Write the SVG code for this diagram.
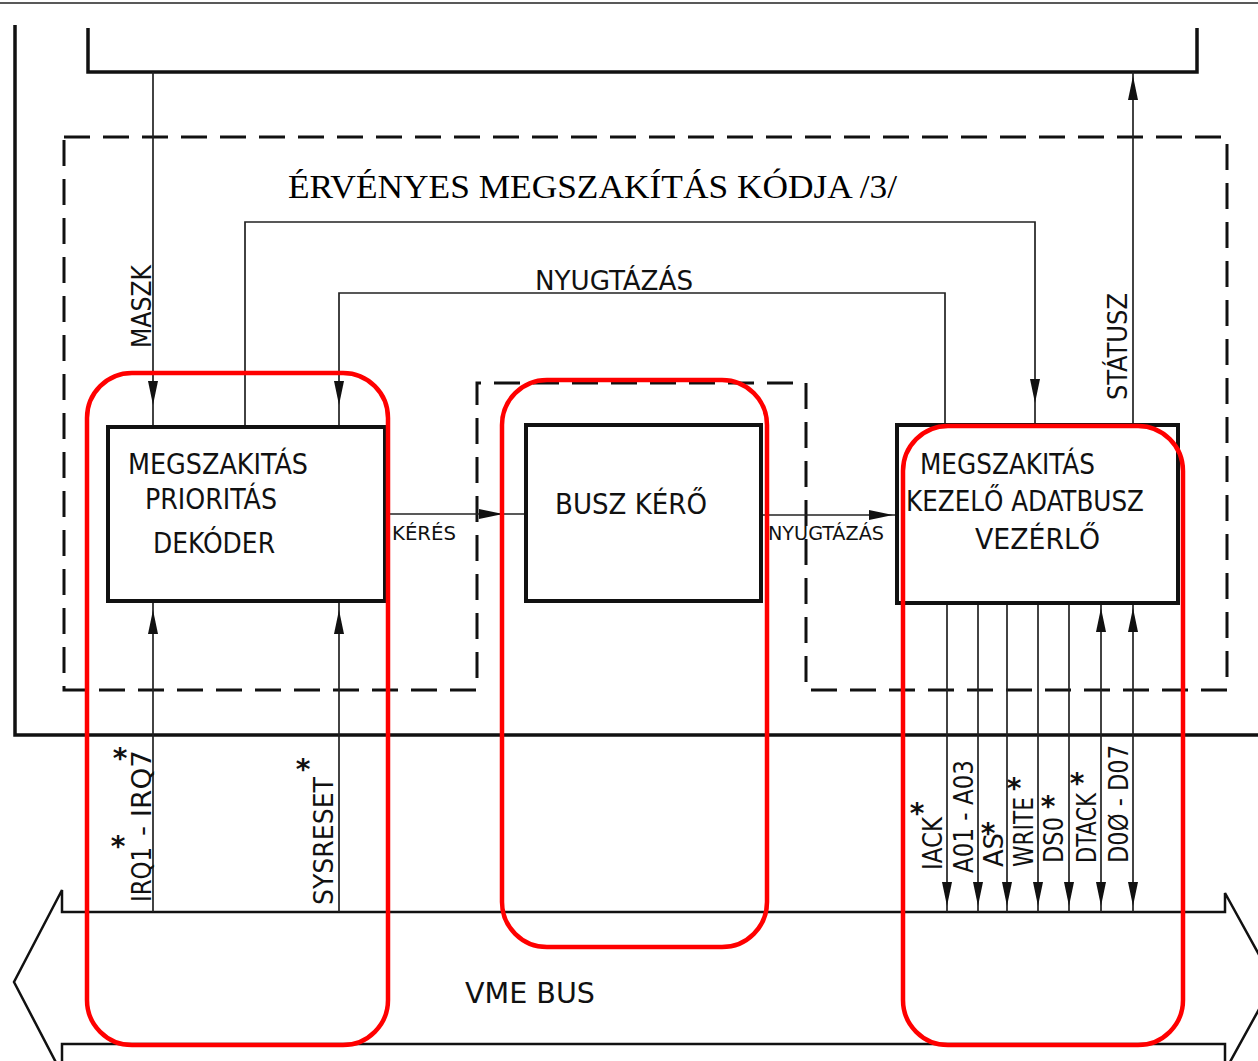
<svg xmlns="http://www.w3.org/2000/svg" width="1258" height="1061" viewBox="0 0 1258 1061">
<style>
.heavy{fill:none;stroke:#111;stroke-width:3.5;stroke-linejoin:miter}
.thin{fill:none;stroke:#222;stroke-width:1.7}
.box{fill:#fff;stroke:#111;stroke-width:4}
.dash{fill:none;stroke:#111;stroke-width:3;stroke-dasharray:26 13}
.hl{fill:none;stroke:#ff0000;stroke-width:4.5}
.lbl{font-family:"DejaVu Sans Condensed","DejaVu Sans","Liberation Sans Narrow","Liberation Sans",sans-serif;fill:#111}
.big{font-size:29px}
.mid{font-size:27px}
.sm{font-size:20px}
.ast{font-family:"DejaVu Sans","Liberation Sans",sans-serif;font-size:28px;font-weight:bold;fill:#111;text-anchor:middle}
.title{font-family:"Liberation Serif","Times New Roman",serif;font-size:34px;fill:#000}
.ah{fill:#111}
</style>
<defs>
<path id="ad" class="ah" d="M0,0 L-5,-24 L5,-24 Z"/>
</defs>
<rect x="0" y="0" width="1258" height="1061" fill="#fff"/>

<g id="frame">
<line x1="0" y1="3" x2="1258" y2="3" stroke="#222" stroke-width="1.5"/>
<path class="heavy" d="M15,25 V735 H1258"/>
<path class="heavy" d="M88,28 V72 H1197 V28"/>
<polygon class="dash" points="64,137 1227,137 1227,690 806,690 806,383 477,383 477,690 64,690"/>
<text class="title" x="288" y="198" textLength="609" lengthAdjust="spacingAndGlyphs">ÉRVÉNYES MEGSZAKÍTÁS KÓDJA /3/</text>
</g>

<g id="vme-bus">
<path class="heavy" style="stroke-width:2.5" d="M62,912 V890 L14,982 L62,1074 V1044 H1225 V1071 L1274,982 L1225,893 V912 Z"/>
<text class="lbl big" x="465" y="1003" textLength="130" lengthAdjust="spacingAndGlyphs">VME BUS</text>
</g>

<g id="connectors">
<line class="thin" x1="153" y1="72" x2="153" y2="427"/>
<use href="#ad" transform="translate(153,405)"/>
<text class="lbl mid" transform="translate(151,348) rotate(-90)" textLength="83" lengthAdjust="spacingAndGlyphs">MASZK</text>
<path class="thin" d="M245,427 V222 H1035 V425"/>
<use href="#ad" transform="translate(1035,403)"/>
<path class="thin" d="M945,425 V293 H339 V427"/>
<use href="#ad" transform="translate(339,405)"/>
<text class="lbl mid" x="535" y="290" textLength="158" lengthAdjust="spacingAndGlyphs">NYUGTÁZÁS</text>
<line class="thin" x1="1133" y1="425" x2="1133" y2="72"/>
<use href="#ad" transform="translate(1133,76) rotate(180)"/>
<text class="lbl mid" transform="translate(1127,400) rotate(-90)" textLength="107" lengthAdjust="spacingAndGlyphs">STÁTUSZ</text>
<line class="thin" x1="385" y1="514" x2="526" y2="514"/>
<use href="#ad" transform="translate(503,514) rotate(-90)"/>
<text class="lbl sm" x="392" y="540" textLength="64" lengthAdjust="spacingAndGlyphs">KÉRÉS</text>
<line class="thin" x1="761" y1="515" x2="896" y2="515"/>
<use href="#ad" transform="translate(893,515) rotate(-90)"/>
<text class="lbl sm" x="768" y="540" textLength="116" lengthAdjust="spacingAndGlyphs">NYUGTÁZÁS</text>
<line class="thin" x1="153" y1="601" x2="153" y2="912"/>
<use href="#ad" transform="translate(153,610) rotate(180)"/>
<text class="lbl mid" transform="translate(151,902) rotate(-90)" textLength="55" lengthAdjust="spacingAndGlyphs">IRQ1</text>
<text class="lbl mid" transform="translate(151,836) rotate(-90)" textLength="86" lengthAdjust="spacingAndGlyphs">- IRQ7</text>
<text class="ast" x="118" y="856">*</text>
<text class="ast" x="120" y="768">*</text>
<line class="thin" x1="339" y1="601" x2="339" y2="912"/>
<use href="#ad" transform="translate(339,610) rotate(180)"/>
<text class="lbl mid" transform="translate(333,905) rotate(-90)" textLength="128" lengthAdjust="spacingAndGlyphs">SYSRESET</text>
<text class="ast" x="303" y="779">*</text>
<line class="thin" x1="947" y1="603" x2="947" y2="912"/>
<line class="thin" x1="978" y1="603" x2="978" y2="912"/>
<line class="thin" x1="1007" y1="603" x2="1007" y2="912"/>
<line class="thin" x1="1038" y1="603" x2="1038" y2="912"/>
<line class="thin" x1="1069" y1="603" x2="1069" y2="912"/>
<line class="thin" x1="1101" y1="603" x2="1101" y2="912"/>
<line class="thin" x1="1133" y1="603" x2="1133" y2="912"/>
<use href="#ad" transform="translate(947,906)"/>
<use href="#ad" transform="translate(978,906)"/>
<use href="#ad" transform="translate(1007,906)"/>
<use href="#ad" transform="translate(1038,906)"/>
<use href="#ad" transform="translate(1069,906)"/>
<use href="#ad" transform="translate(1101,906)"/>
<use href="#ad" transform="translate(1133,906)"/>
<use href="#ad" transform="translate(1101,608) rotate(180)"/>
<use href="#ad" transform="translate(1133,608) rotate(180)"/>
<text class="lbl mid" transform="translate(942,870) rotate(-90)" textLength="53" lengthAdjust="spacingAndGlyphs">IACK</text>
<text class="ast" x="917" y="823">*</text>
<text class="lbl mid" transform="translate(973,873) rotate(-90)" textLength="113" lengthAdjust="spacingAndGlyphs">A01 - A03</text>
<text class="lbl mid" transform="translate(1003,867) rotate(-90)" textLength="34" lengthAdjust="spacingAndGlyphs">AS</text>
<text class="ast" x="988" y="843">*</text>
<text class="lbl mid" transform="translate(1033,867) rotate(-90)" textLength="70" lengthAdjust="spacingAndGlyphs">WRITE</text>
<text class="ast" x="1014" y="798">*</text>
<text class="lbl mid" transform="translate(1063,863) rotate(-90)" textLength="46" lengthAdjust="spacingAndGlyphs">DS0</text>
<text class="ast" x="1048" y="816">*</text>
<text class="lbl mid" transform="translate(1096,863) rotate(-90)" textLength="70" lengthAdjust="spacingAndGlyphs">DTACK</text>
<text class="ast" x="1077" y="793">*</text>
<text class="lbl mid" transform="translate(1128,863) rotate(-90)" textLength="118" lengthAdjust="spacingAndGlyphs">D0Ø - D07</text>
</g>

<g id="decoder">
<rect class="box" x="108" y="427" width="277" height="174"/>
<text class="lbl big" x="128" y="474" textLength="180" lengthAdjust="spacingAndGlyphs">MEGSZAKITÁS</text>
<text class="lbl big" x="145" y="509" textLength="132" lengthAdjust="spacingAndGlyphs">PRIORITÁS</text>
<text class="lbl big" x="153" y="553" textLength="122" lengthAdjust="spacingAndGlyphs">DEKÓDER</text>
</g>

<g id="bus-requester">
<rect class="box" x="526" y="425" width="235" height="176"/>
<text class="lbl big" x="555" y="514" textLength="152" lengthAdjust="spacingAndGlyphs">BUSZ KÉRŐ</text>
</g>

<g id="handler">
<rect class="box" x="897" y="425" width="281" height="178"/>
<text class="lbl big" x="920" y="474" textLength="175" lengthAdjust="spacingAndGlyphs">MEGSZAKITÁS</text>
<text class="lbl big" x="906" y="511" textLength="238" lengthAdjust="spacingAndGlyphs">KEZELŐ ADATBUSZ</text>
<text class="lbl big" x="975" y="549" textLength="125" lengthAdjust="spacingAndGlyphs">VEZÉRLŐ</text>
</g>

<g id="highlights">
<rect class="hl" x="87" y="373" width="301" height="672" rx="45"/>
<rect class="hl" x="502" y="380" width="265" height="567" rx="45"/>
<rect class="hl" x="903" y="426" width="280" height="619" rx="45"/>
</g>
</svg>
